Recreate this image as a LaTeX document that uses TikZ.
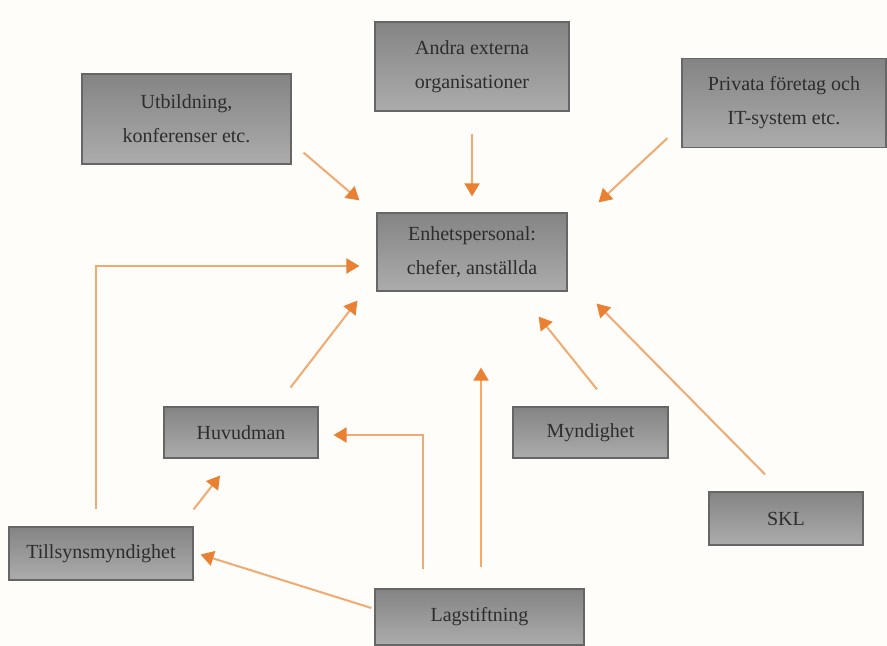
\documentclass[tikz,border=0pt]{standalone}
\usepackage{fontspec}
\setmainfont{Liberation Serif}
\usetikzlibrary{arrows.meta}
\definecolor{bgc}{RGB}{254,253,250}
\definecolor{linec}{RGB}{241,170,112}
\definecolor{tipc}{RGB}{233,128,50}
\definecolor{boxtop}{RGB}{132,132,132}
\definecolor{boxbot}{RGB}{172,172,172}
\definecolor{boxline}{RGB}{102,102,102}
\definecolor{txtc}{RGB}{45,45,45}
\begin{document}
\begin{tikzpicture}[x=0.5pt,y=-0.5pt,
    box/.style={draw=boxline,line width=0.6pt,top color=boxtop,bottom color=boxbot,
      text=txtc,inner sep=0pt,align=center,font=\fontsize{10}{17}\selectfont},
    arr/.style={draw=linec,line width=1pt,
      -{Triangle[color=tipc,fill=tipc,width=7.5pt,length=6.5pt]}}]
    \fill[bgc] (0,0) rectangle (887,646);
    \useasboundingbox (0,0) rectangle (887,646);

    % boxes
    \node[box,minimum width=104.5pt,minimum height=45pt] (utb) at (186.5,119)
    {Utbildning,\\konferenser etc.};
    \node[box,minimum width=97pt,minimum height=44.5pt] (andra) at (472,66.5)
    {Andra externa\\organisationer};
    \node[box,minimum width=102pt,minimum height=44.5pt] (priv) at (784,103)
    {Privata företag och\\IT-system etc.};
    \node[box,minimum width=95pt,minimum height=39pt] (enh) at (472,252)
    {Enhetspersonal:\\chefer, anställda};
    \node[box,minimum width=77pt,minimum height=25.5pt] (huv) at (241,432.5) {Huvudman};
    \node[box,minimum width=77.5pt,minimum height=25.5pt] (myn) at (590.5,432.5) {Myndighet};
    \node[box,minimum width=77pt,minimum height=26.5pt] (skl) at (786,518.5) {SKL};
    \node[box,minimum width=92pt,minimum height=26.5pt] (till) at (101,553.5) {Tillsynsmyndighet};
    \node[box,minimum width=104.5pt,minimum height=28pt] (lag) at (479.5,617) {Lagstiftning};

    % arrows towards the staff
    \draw[arr] ([shift={(12,-12)}]utb.south east) -- ([shift={(-17,-12)}]enh.north west);
    \draw[arr] ([shift={(0,22)}]andra.south) -- ([shift={(0,-16)}]enh.north);
    \draw[arr] ([shift={(-14,-10)}]priv.south west) -- ([shift={(31,-10)}]enh.north east);
    \draw[arr] ([shift={(-5,-17)}]till.north) |- ([shift={(-17,14)}]enh.west);
    \draw[arr] ([shift={(-28,-19)}]huv.north east) -- ([shift={(-19,9)}]enh.south west);
    \draw[arr] ([shift={(6.5,-17)}]myn.north) -- ([shift={(-29,25)}]enh.south east);
    \draw[arr] ([shift={(-21,-17)}]skl.north) -- ([shift={(29,12)}]enh.south east);
    \draw[arr] ([shift={(1.5,-21)}]lag.north) -- ([shift={(9,76)}]enh.south);

    % other arrows
    \draw[arr] ([shift={(0,-17)}]till.north east) -- ([shift={(-21,17)}]huv.south);
    \draw[arr] ([shift={(-3,-9)}]lag.west) -- ([shift={(7,1)}]till.east);
    \draw[arr] ([shift={(49,-19)}]lag.north west) |- ([shift={(15,2.5)}]huv.east);
\end{tikzpicture}
\end{document}
